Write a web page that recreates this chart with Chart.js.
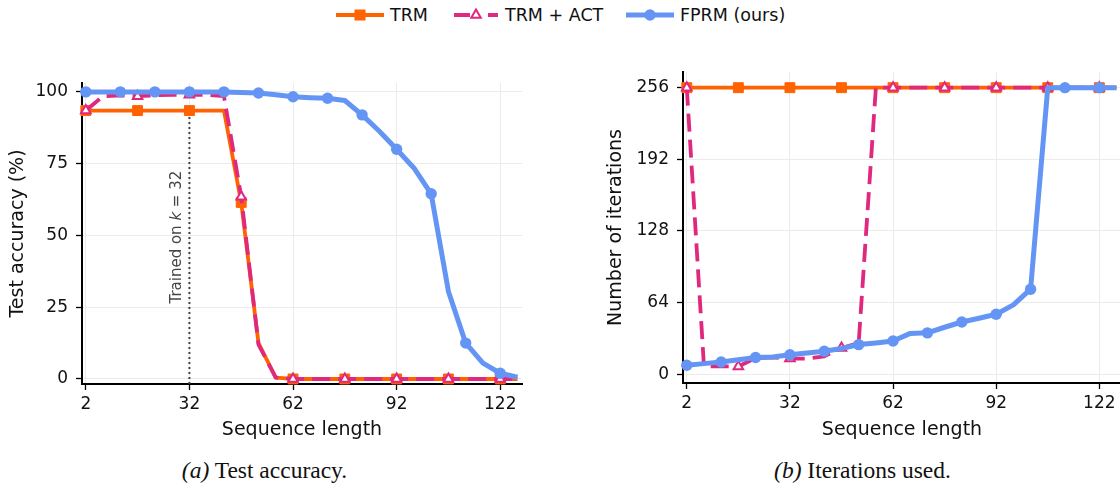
<!DOCTYPE html>
<html>
<head>
<meta charset="utf-8">
<script src="https://cdn.jsdelivr.net/npm/chart.js@4.4.0/dist/chart.umd.min.js"></script>
<style>
  html, body { margin: 0; padding: 0; overflow: hidden; background: #fff; }
  body { width: 1120px; height: 484px; position: relative; font-family: "DejaVu Sans", sans-serif; }
  canvas { position: absolute; }
  .legtxt { position: absolute; top: 5px; font-size: 17.5px; line-height: 20px; color: #111; white-space: nowrap; }
  .cap { position: absolute; top: 459px; font-family: "Liberation Serif", "Times New Roman", serif; font-size: 23.5px;
         line-height: 1; transform: translateX(-50%); white-space: nowrap; color: #111; }
</style>
</head>
<body>
<canvas id="legTRM" width="48" height="20" style="left:336px;top:5px"></canvas>
<span class="legtxt" style="left:390px">TRM</span>
<canvas id="legACT" width="44" height="20" style="left:454px;top:5px"></canvas>
<span class="legtxt" style="left:505px">TRM + ACT</span>
<canvas id="legFPRM" width="48" height="20" style="left:626px;top:5px"></canvas>
<span class="legtxt" style="left:680px">FPRM (ours)</span>

<canvas id="acc" width="560" height="400" style="left:0;top:40px"></canvas>
<canvas id="iters" width="600" height="400" style="left:560px;top:40px"></canvas>

<div class="cap" style="left:264.5px"><i>(a)</i> Test accuracy.</div>
<div class="cap" style="left:862.5px"><i>(b)</i> Iterations used.</div>

<script>
// sequence lengths tested
var lengths = [2, 7, 12, 17, 22, 27, 32, 37, 42, 47, 52, 57, 62, 67, 72, 77, 82, 87, 92, 97, 102, 107, 112, 117, 122, 127];

// (a) test accuracy in %
var accTRM  = [93.5, 93.5, 93.5, 93.5, 93.5, 93.5, 93.5, 93.5, 93.5, 61.5, 12.5, 0.5, 0, 0, 0, 0, 0, 0, 0, 0, 0, 0, 0, 0, 0, 0];
var accACT  = [93.5, 98.5, 98.8, 98.5, 98.8, 99, 99, 99, 98.5, 63.5, 12, 0.5, 0, 0, 0, 0, 0, 0, 0, 0, 0, 0, 0, 0, 0, 0];
var accFPRM = [100, 100, 100, 100, 100, 100, 100, 100, 100, 99.8, 99.6, 99, 98.3, 98, 97.8, 97, 92, 86.3, 80, 73.5, 64.5, 30.5, 12.5, 5.5, 2, 0.6];

// (b) number of iterations used
var itTRM  = [256, 256, 256, 256, 256, 256, 256, 256, 256, 256, 256, 256, 256, 256, 256, 256, 256, 256, 256, 256, 256, 256, 256, 256, 256, 256];
var itACT  = [256, 7, 7, 7, 14.5, 15, 14, 14, 16, 23.5, 28, 256, 256, 256, 256, 256, 256, 256, 256, 256, 256, 256, 256, 256, 256, 256];
var itFPRM = [8, 9.5, 11, 13, 15, 15.5, 17.5, 19, 20.5, 23, 26.5, 28, 29.7, 36.5, 37, 42, 46.7, 50, 53.6, 62, 76, 256, 256, 256, 256, 256];

// tick labels
var xTicks = [2, 32, 62, 92, 122];
var accTicks = [0, 25, 50, 75, 100];
var itTicks = [0, 64, 128, 192, 256];
var trainedK = 32;

var ORANGE = '#ff6200', PINK = '#e0287f', BLUE = '#6495f5';
var FONT = '"DejaVu Sans", sans-serif';

function pts(ys) {
  return lengths.map(function (x, i) { return {x: x, y: ys[i]}; });
}
// markers only on every n-th point, like matplotlib markevery
function every(n, r) {
  return function (c) { return c.dataIndex % n === 0 ? r : 0; };
}

function makeDatasets(trm, act, fprm) {
  return [
    { label: 'FPRM (ours)', data: pts(fprm), borderColor: BLUE, borderWidth: 5, borderJoinStyle: 'round',
      pointStyle: 'circle', pointRadius: every(2, 5.7), pointBackgroundColor: BLUE, pointBorderColor: BLUE,
      pointBorderWidth: 0, order: 1 },
    { label: 'TRM + ACT', data: pts(act), borderColor: PINK, borderWidth: 3.8, borderDash: [18, 8],
      borderJoinStyle: 'round', pointStyle: 'triangle', pointRadius: every(3, 5.5),
      pointBackgroundColor: '#fff', pointBorderColor: PINK, pointBorderWidth: 2, order: 2 },
    { label: 'TRM', data: pts(trm), borderColor: ORANGE, borderWidth: 3.8, borderJoinStyle: 'round',
      pointStyle: 'rect', pointRadius: every(3, 7), pointBackgroundColor: ORANGE, pointBorderColor: ORANGE,
      pointBorderWidth: 1, order: 3 }
  ];
}

function axes(cfg) {
  return {
    x: {
      type: 'linear', min: 0.9, max: 128.3,
      afterBuildTicks: function (s) { s.ticks = xTicks.map(function (v) { return {value: v}; }); },
      afterFit: function (s) { s.height = cfg.xHeight; },
      grid: { color: '#ebebeb', lineWidth: 1, tickColor: '#000', tickLength: 6, tickWidth: 1.3 },
      border: { color: '#000', width: 2 },
      ticks: { color: '#111', font: { size: 17, family: FONT }, padding: 4, maxRotation: 0, autoSkip: false },
      title: { display: true, text: 'Sequence length', color: '#111',
               font: { size: 19, family: FONT, lineHeight: 1 }, padding: { top: 0, bottom: 0 } }
    },
    y: {
      type: 'linear', min: cfg.yMin, max: cfg.yMax,
      afterBuildTicks: function (s) { s.ticks = cfg.yTicks.map(function (v) { return {value: v}; }); },
      afterFit: function (s) { s.width = cfg.yWidth; },
      grid: { color: '#ebebeb', lineWidth: 1, tickColor: '#000', tickLength: 6, tickWidth: 1.3 },
      border: { color: '#000', width: 2 },
      ticks: { color: '#111', font: { size: 17, family: FONT }, padding: 8, autoSkip: false },
      title: { display: true, text: cfg.yTitle, color: '#111',
               font: { size: 19, family: FONT, lineHeight: 1 }, padding: { top: cfg.titlePad, bottom: 0 } }
    }
  };
}

// "Trained on k = 32" label beside the dotted line
var trainedLabel = {
  id: 'trainedLabel',
  afterDatasetsDraw: function (chart) {
    var c = chart.ctx;
    var px = chart.scales.x.getPixelForValue(trainedK) - 8;
    var py = chart.scales.y.getPixelForValue(49.4);
    var parts = [['Trained on ', '15px ' + FONT], ['k', 'italic 15px ' + FONT], [' = 32', '15px ' + FONT]];
    c.save();
    c.translate(px, py);
    c.rotate(-Math.PI / 2);
    c.fillStyle = '#444';
    c.textBaseline = 'alphabetic';
    var w = 0;
    parts.forEach(function (p) { c.font = p[1]; w += c.measureText(p[0]).width; });
    var x = -w / 2;
    parts.forEach(function (p) { c.font = p[1]; c.fillText(p[0], x, 0); x += c.measureText(p[0]).width; });
    c.restore();
  }
};

var accSets = makeDatasets(accTRM, accACT, accFPRM);
accSets.push({ label: 'trained', data: [{x: trainedK, y: -1.75}, {x: trainedK, y: 93.5}], borderColor: '#444',
  borderWidth: 2, borderDash: [2, 3], pointRadius: 0, order: 4 });

new Chart(document.getElementById('acc').getContext('2d'), {
  type: 'line',
  data: { datasets: accSets },
  options: {
    responsive: false, animation: false, clip: false,
    layout: { padding: { left: 0, right: 38, top: 43, bottom: 0 } },
    plugins: { legend: { display: false }, tooltip: { enabled: false } },
    scales: axes({ xHeight: 56, yWidth: 82, yMin: -1.75, yMax: 103.1, yTicks: accTicks,
                   yTitle: 'Test accuracy (%)', titlePad: 8.5 })
  },
  plugins: [trainedLabel]
});

new Chart(document.getElementById('iters').getContext('2d'), {
  type: 'line',
  data: { datasets: makeDatasets(itTRM, itACT, itFPRM) },
  options: {
    responsive: false, animation: false, clip: false,
    layout: { padding: { left: 0, right: 39, top: 32, bottom: 0 } },
    plugins: { legend: { display: false }, tooltip: { enabled: false } },
    scales: axes({ xHeight: 57, yWidth: 123, yMin: -7.8, yMax: 270, yTicks: itTicks,
                   yTitle: 'Number of iterations', titlePad: 47 })
  }
});

// legend samples: line with marker in the middle
function sample(id, color, kind) {
  var cv = document.getElementById(id), c = cv.getContext('2d');
  var w = cv.width, cx = w / 2, cy = 10;
  c.strokeStyle = color;
  c.lineWidth = kind === 'circle' ? 5 : 3.8;
  if (kind === 'triangle') c.setLineDash([16, 18]);
  c.beginPath(); c.moveTo(0, cy); c.lineTo(w, cy); c.stroke();
  c.setLineDash([]);
  c.fillStyle = color;
  if (kind === 'rect') {
    c.fillRect(cx - 5.5, cy - 5.5, 11, 11);
  } else if (kind === 'circle') {
    c.beginPath(); c.arc(cx, cy, 5.7, 0, Math.PI * 2); c.fill();
  } else {
    var r = 5.5;
    c.beginPath();
    c.moveTo(cx, cy - r);
    c.lineTo(cx + r * 0.866, cy + r * 0.5);
    c.lineTo(cx - r * 0.866, cy + r * 0.5);
    c.closePath();
    c.fillStyle = '#fff'; c.fill();
    c.lineWidth = 2; c.stroke();
  }
}
sample('legTRM', ORANGE, 'rect');
sample('legACT', PINK, 'triangle');
sample('legFPRM', BLUE, 'circle');
</script>
</body>
</html>
